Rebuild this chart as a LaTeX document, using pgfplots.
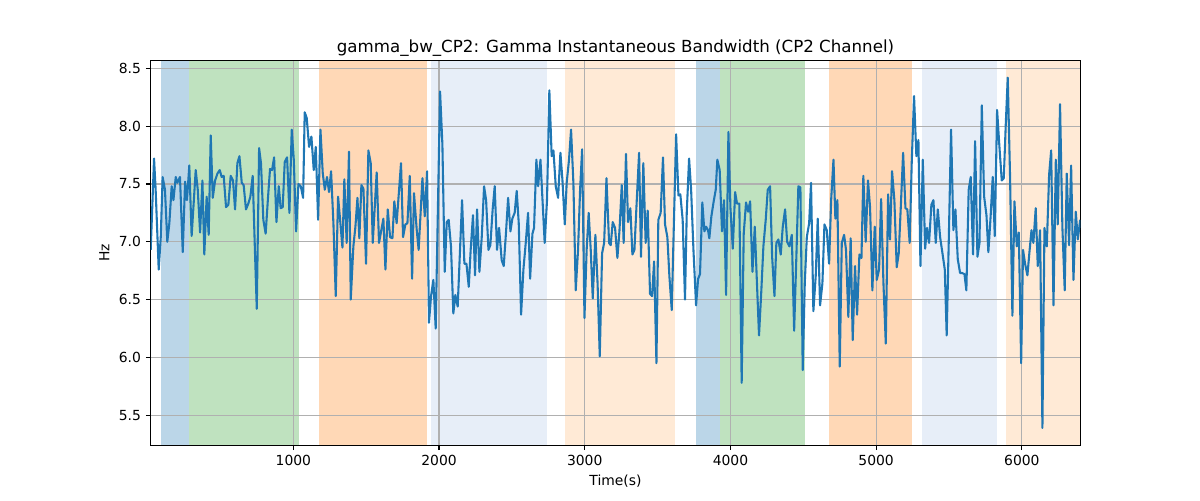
\documentclass[border=0pt]{standalone}
\usepackage{pgfplots}
\pgfplotsset{compat=1.18}
\usepackage{fontspec}
\setmainfont{DejaVu Sans}
\definecolor{tabblue}{HTML}{1F77B4}
\definecolor{tabgreen}{HTML}{2CA02C}
\definecolor{taborange}{HTML}{FF7F0E}
\definecolor{lblue}{HTML}{AEC7E8}
\definecolor{lorange}{HTML}{FFBB78}
\definecolor{gridgray}{HTML}{B0B0B0}
\begin{document}
\begin{tikzpicture}
\begin{axis}[
  set layers, clip mode=individual,
  at={(0,0)}, anchor=south west,
  scale only axis, width=669.3pt, height=276.9pt,
  xmin=21, xmax=6401, ymin=5.24, ymax=8.566,
  xtick={1000,2000,3000,4000,5000,6000},
  ytick={5.5,6.0,6.5,7.0,7.5,8.0,8.5},
  yticklabel style={/pgf/number format/.cd, fixed, fixed zerofill, precision=1},
  xticklabel style={/pgf/number format/.cd, set thousands separator={}},
  /pgf/number format/assume math mode=true,
  tick label style={font=\fontsize{10}{12}\selectfont},
  label style={font=\fontsize{10}{12}\selectfont},
  title style={font=\fontsize{12}{14}\selectfont, yshift=-6.3pt},
  title={gamma\_bw\_CP2: Gamma Instantaneous Bandwidth (CP2 Channel)},
  xlabel={Time(s)}, ylabel={Hz},
  grid=major, major grid style={gridgray, line width=0.8pt},
  tick pos=left, tick align=outside, major tick length=3.5pt,
  tick style={black, line width=0.8pt},
  axis line style={black, line width=0.8pt},
]
\addplot[on layer=axis background, draw=none, fill=tabblue, fill opacity=0.3] coordinates {(93,9) (286,9)} \closedcycle;
\addplot[on layer=axis background, draw=none, fill=tabgreen, fill opacity=0.3] coordinates {(286,9) (1041,9)} \closedcycle;
\addplot[on layer=axis background, draw=none, fill=taborange, fill opacity=0.3] coordinates {(1173,9) (1920,9)} \closedcycle;
\addplot[on layer=axis background, draw=none, fill=lblue, fill opacity=0.3] coordinates {(1947,9) (2738,9)} \closedcycle;
\addplot[on layer=axis background, draw=none, fill=lorange, fill opacity=0.3] coordinates {(2862,9) (3617,9)} \closedcycle;
\addplot[on layer=axis background, draw=none, fill=tabblue, fill opacity=0.3] coordinates {(3761,9) (3926,9)} \closedcycle;
\addplot[on layer=axis background, draw=none, fill=tabgreen, fill opacity=0.3] coordinates {(3926,9) (4510,9)} \closedcycle;
\addplot[on layer=axis background, draw=none, fill=taborange, fill opacity=0.3] coordinates {(4675,9) (5245,9)} \closedcycle;
\addplot[on layer=axis background, draw=none, fill=lblue, fill opacity=0.3] coordinates {(5313,9) (5828,9)} \closedcycle;
\addplot[on layer=axis background, draw=none, fill=lorange, fill opacity=0.3] coordinates {(5890,9) (6500,9)} \closedcycle;
\addplot[tabblue, line width=1.5pt, line join=round] coordinates {
(21,6.93)(44,7.72)(55,7.45)(76,6.76)(90,7.04)(103,7.56)(119,7.45)(135,7.00)(149,7.16)(165,7.48)(177,7.36)(193,7.56)(204,7.51)(211,7.53)(222,7.56)(241,6.91)(257,7.52)(270,7.36)(286,7.66)(302,7.05)(330,7.62)(344,7.45)(360,7.08)(376,7.53)(389,6.89)(405,7.39)(419,7.06)(433,7.92)(447,7.38)(463,7.53)(479,7.59)(495,7.62)(508,7.56)(522,7.57)(538,7.30)(554,7.32)(570,7.57)(586,7.53)(600,7.28)(616,7.68)(630,7.74)(646,7.51)(659,7.49)(675,7.28)(691,7.33)(705,7.39)(721,7.57)(737,6.90)(749,6.42)(765,7.81)(778,7.68)(794,7.19)(810,7.07)(826,7.38)(840,7.63)(854,7.62)(868,7.73)(884,7.17)(900,7.48)(913,7.29)(927,7.30)(941,7.69)(957,7.73)(973,7.25)(989,7.97)(1003,7.71)(1019,7.09)(1035,7.50)(1051,7.48)(1067,7.38)(1078,8.12)(1092,8.07)(1108,7.82)(1124,7.91)(1140,7.62)(1154,7.82)(1170,7.19)(1186,7.97)(1202,7.59)(1216,7.45)(1231,7.56)(1245,7.43)(1259,7.61)(1275,7.16)(1291,6.53)(1307,7.39)(1321,7.19)(1337,6.95)(1350,7.54)(1366,6.99)(1382,7.78)(1394,6.50)(1412,6.96)(1426,7.13)(1440,7.38)(1453,7.03)(1467,7.49)(1481,7.46)(1499,6.81)(1515,7.79)(1531,7.68)(1545,6.99)(1572,7.60)(1588,6.99)
(1618,7.20)(1632,6.76)(1648,7.28)(1664,7.04)(1680,7.03)(1693,7.35)(1709,7.16)(1739,7.68)(1753,7.04)(1769,7.15)(1783,7.16)(1799,7.57)(1815,6.68)(1828,7.42)(1847,7.10)(1860,6.93)(1886,7.55)(1902,7.22)(1918,7.61)(1931,6.30)(1945,6.53)(1961,6.67)(1977,6.25)(2007,8.30)(2023,7.84)(2039,6.74)(2053,7.17)(2066,7.19)(2082,6.96)(2098,6.38)(2112,6.54)(2128,6.44)(2144,6.93)(2158,7.36)(2174,6.81)(2188,6.81)(2204,6.61)(2217,6.93)(2233,7.23)(2247,6.71)(2261,7.28)(2277,6.74)(2293,7.04)(2309,7.48)(2323,7.36)(2339,6.93)(2352,6.97)(2368,7.28)(2382,7.48)(2398,6.93)(2412,7.12)(2430,6.84)(2444,6.79)(2460,7.09)(2474,7.38)(2490,7.09)(2503,7.20)(2519,7.25)(2533,7.44)(2547,7.16)(2563,6.37)(2579,6.76)(2595,6.99)(2611,7.25)(2625,6.68)(2641,7.07)(2652,7.12)(2668,7.71)(2680,7.48)(2696,7.71)(2725,6.99)(2741,7.36)(2757,8.31)(2773,7.74)(2785,7.79)(2801,7.48)(2817,7.38)(2833,7.77)(2847,7.53)(2863,7.15)(2876,7.51)(2892,7.71)(2906,7.97)(2922,7.51)(2938,6.58)(2954,6.93)(2968,7.45)(2982,7.80)(2998,6.34)(3013,6.93)(3027,7.25)(3041,6.93)(3055,6.51)(3073,7.06)(3088,6.64)(3103,6.01)(3119,6.90)(3133,6.99)(3149,7.55)(3167,6.99)
(3178,6.97)(3192,7.17)(3208,7.12)(3224,6.86)(3238,7.09)(3254,7.49)(3267,6.99)(3283,7.76)(3297,7.17)(3313,7.29)(3327,6.89)(3341,6.93)(3357,7.36)(3373,7.77)(3386,6.87)(3402,7.68)(3418,6.99)(3432,7.27)(3448,6.55)(3462,6.53)(3476,6.83)(3492,5.95)(3505,7.19)(3521,7.25)(3537,7.73)(3551,7.15)(3567,7.04)(3581,6.70)(3597,6.41)(3627,7.93)(3643,7.40)(3656,7.41)(3672,7.19)(3688,6.50)(3700,7.25)(3716,7.72)(3730,7.45)(3746,6.93)(3764,6.45)(3778,6.68)(3791,6.72)(3807,7.34)(3821,7.09)(3833,7.13)(3846,7.10)(3855,7.03)(3869,7.22)(3885,7.35)(3899,7.45)(3910,7.71)(3926,7.62)(3942,7.09)(3956,7.36)(3970,6.54)(3986,7.95)(4000,7.29)(4016,6.94)(4032,7.43)(4045,7.33)(4061,7.33)(4077,5.78)(4091,7.07)(4107,7.34)(4121,7.26)(4135,7.35)(4151,6.74)(4167,7.13)(4180,6.70)(4196,6.19)(4212,6.58)(4226,6.96)(4242,7.19)(4256,7.45)(4272,7.48)(4286,6.87)(4302,6.53)(4315,6.99)(4329,7.02)(4345,6.89)(4359,7.13)(4375,7.28)(4389,7.00)(4405,6.96)(4421,7.06)(4437,6.23)(4453,6.90)(4466,7.48)(4480,7.47)(4496,5.89)(4510,6.64)(4524,7.04)(4540,7.16)(4553,7.51)(4569,6.40)(4585,6.70)(4599,7.20)(4615,6.45)(4631,6.64)(4645,7.15)(4661,7.10)(4677,6.81)(4691,7.36)(4707,7.71)(4720,7.20)(4734,7.36)(4750,5.92)
(4764,6.99)(4780,7.06)(4793,6.93)(4809,6.35)(4825,7.03)(4839,6.15)(4855,6.79)(4869,6.37)(4885,6.89)(4899,6.86)(4912,7.57)(4928,7.00)(4944,7.53)(4958,7.30)(4974,6.58)(4990,7.13)(5004,6.67)(5020,6.76)(5034,7.37)(5050,6.64)(5066,6.12)(5082,7.41)(5095,7.02)(5109,7.61)(5125,7.36)(5141,6.78)(5155,6.90)(5169,7.30)(5185,7.77)(5201,7.29)(5214,7.28)(5230,6.99)(5244,7.68)(5260,8.26)(5276,7.74)(5290,7.88)(5304,6.79)(5320,7.71)(5336,6.94)(5349,7.12)(5363,6.99)(5379,7.32)(5393,7.36)(5409,6.99)(5423,7.28)(5439,7.04)(5455,6.90)(5471,6.76)(5484,6.19)(5498,6.99)(5514,7.97)(5530,7.10)(5544,7.28)(5560,6.85)(5576,6.73)(5590,6.73)(5606,6.72)(5619,6.58)(5635,7.45)(5649,7.56)(5665,6.89)(5679,7.87)(5695,6.87)(5709,6.99)(5725,8.18)(5741,7.39)(5757,7.23)(5770,6.91)(5786,7.23)(5800,7.56)(5814,7.05)(5830,8.14)(5846,7.82)(5862,7.53)(5876,7.55)(5889,8.00)(5903,8.42)(5919,7.56)(5935,6.36)(5949,7.35)(5965,6.96)(5979,7.08)(5995,5.95)(6008,6.93)(6022,6.81)(6038,6.71)(6052,6.91)(6066,7.10)(6079,6.99)(6095,7.29)(6109,6.79)(6125,7.10)(6141,5.39)(6155,7.12)(6171,6.96)(6187,7.58)(6201,7.79)(6217,6.45)(6233,7.71)(6246,7.15)(6262,8.19)(6278,7.13)(6294,6.58)(6308,7.59)(6324,6.97)(6338,7.66)(6354,6.67)(6370,7.26)(6384,7.02)(6400,7.19)
};
\end{axis}
\pgfresetboundingbox
\path (-108.5pt,-39.4pt) rectangle (755.5pt,320.6pt);
\end{tikzpicture}
\end{document}
